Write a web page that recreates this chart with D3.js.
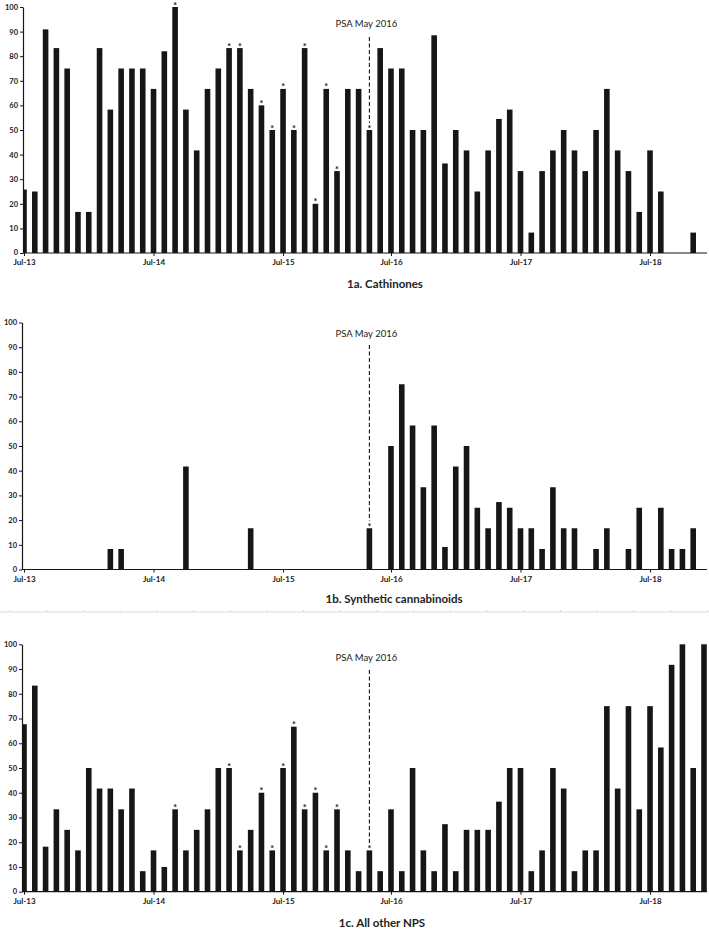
<!DOCTYPE html>
<html>
<head>
<meta charset="utf-8">
<script src="https://cdn.jsdelivr.net/npm/d3@7"></script>
<style>
  html, body { margin: 0; padding: 0; background: #fff; }
  svg { display: block; }
</style>
</head>
<body>
<div id="chart"></div>
<script>
// ---------------- DATA ----------------
const months = [
  "Jul-13","Aug-13","Sep-13","Oct-13","Nov-13","Dec-13","Jan-14","Feb-14","Mar-14","Apr-14","May-14","Jun-14",
  "Jul-14","Aug-14","Sep-14","Oct-14","Nov-14","Dec-14","Jan-15","Feb-15","Mar-15","Apr-15","May-15","Jun-15",
  "Jul-15","Aug-15","Sep-15","Oct-15","Nov-15","Feb-16","Mar-16","Apr-16","May-16","Jun-16",
  "Jul-16","Aug-16","Sep-16","Oct-16","Nov-16","Dec-16","Jan-17","Feb-17","Mar-17","Apr-17","May-17","Jun-17",
  "Jul-17","Aug-17","Sep-17","Oct-17","Nov-17","Dec-17","Jan-18","Feb-18","Mar-18","Apr-18","May-18","Jun-18",
  "Jul-18","Aug-18","Sep-18","Oct-18","Nov-18","Dec-18"
];
const xTickLabels = ["Jul-13","Jul-14","Jul-15","Jul-16","Jul-17","Jul-18"];
const yTickValues = [0,10,20,30,40,50,60,70,80,90,100];
const psaLabel = "PSA May 2016";
const psaMonth = "May-16";
const titles = ["1a. Cathinones", "1b. Synthetic cannabinoids", "1c. All other NPS"];

const cathinones = [
  25.8,25,90.9,83.3,75,16.7,16.7,83.3,58.3,75,75,75,
  66.7,82,100,58.3,41.7,66.7,75,83.3,83.3,66.7,60,50,
  66.7,50,83.3,20,66.7,33.3,66.7,66.7,50,83.3,
  75,75,50,50,88.5,36.4,50,41.7,25,41.7,54.5,58.3,
  33.3,8.3,33.3,41.7,50,41.7,33.3,50,66.7,41.7,33.3,16.7,
  41.7,25,null,null,8.3,null
];
const cannabinoids = [
  null,null,null,null,null,null,null,null,8.3,8.3,null,null,
  null,null,null,41.7,null,null,null,null,null,16.7,null,null,
  null,null,null,null,null,null,null,null,16.7,null,
  50,75,58.3,33.3,58.3,9.1,41.7,50,25,16.7,27.3,25,
  16.7,16.7,8.3,33.3,16.7,16.7,null,8.3,16.7,null,8.3,25,
  null,25,8.3,8.3,16.7,null
];
const otherNPS = [
  67.7,83.3,18.2,33.3,25,16.7,50,41.7,41.7,33.3,41.7,8.3,
  16.7,10,33.3,16.7,25,33.3,50,50,16.7,25,40,16.7,
  50,66.7,33.3,40,16.7,33.3,16.7,8.3,16.7,8.3,
  33.3,8.3,50,16.7,8.3,27.3,8.3,25,25,25,36.4,50,
  50,8.3,16.7,50,41.7,8.3,16.7,16.7,75,41.7,75,33.3,
  75,58.3,91.7,100,50,100
];
// months marked with an asterisk
const starsCathinones = ["Sep-14","Feb-15","Mar-15","May-15","Jun-15","Jul-15","Aug-15","Sep-15","Oct-15","Nov-15","Feb-16","May-16"];
const starsCannabinoids = ["May-16"];
const starsOther = ["Sep-14","Feb-15","Mar-15","May-15","Jun-15","Jul-15","Aug-15","Sep-15","Oct-15","Nov-15","Feb-16","May-16"];

// ---------------- LAYOUT ----------------
const W = 709, H = 930;
const svg = d3.select("#chart").append("svg")
  .attr("width", W).attr("height", H)
  .attr("viewBox", `0 0 ${W} ${H}`);
svg.append("rect").attr("width", W).attr("height", H).attr("fill", "#fff");

const x = d3.scalePoint().domain(months).range([24, 704]);
const barW = 5.6;
const ink = "#161616";
const tickFont = "Lato, 'Open Sans', 'DejaVu Sans', sans-serif";

const panels = [
  {values: cathinones, stars: starsCathinones, title: titles[0], yTop: 7, yBot: 253, axisX: 23,
   psaTextY: 27, psaLineTop: 37, titleX: 385, titleY: 288},
  {values: cannabinoids, stars: starsCannabinoids, title: titles[1], yTop: 322.5, yBot: 569.5, axisX: 22,
   psaTextY: 337, psaLineTop: 345, titleX: 394, titleY: 603},
  {values: otherNPS, stars: starsOther, title: titles[2], yTop: 644.3, yBot: 891.7, axisX: 22,
   psaTextY: 661, psaLineTop: 670, titleX: 382, titleY: 927}
];

// separator between panel b and c
const sepY = 612;
svg.append("line").attr("x1", 0).attr("x2", W).attr("y1", sepY).attr("y2", sepY)
  .attr("stroke", "#d8d8d8").attr("stroke-width", 1);
svg.append("g").selectAll("line").data(d3.range(10, W, 36.7)).join("line")
  .attr("x1", d => d).attr("x2", d => d).attr("y1", sepY - 2).attr("y2", sepY)
  .attr("stroke", "#d8d8d8").attr("stroke-width", 1);

panels.forEach((p, pi) => {
  const y = d3.scaleLinear().domain([0, 100]).range([p.yBot, p.yTop]);
  const g = svg.append("g");
  const data = months.map((m, i) => ({m, v: p.values[i]})).filter(d => d.v != null);

  const clipId = "clip" + pi;
  svg.append("clipPath").attr("id", clipId).append("rect")
    .attr("x", p.axisX).attr("y", p.yTop - 5).attr("width", W - p.axisX).attr("height", p.yBot - p.yTop + 5);

  // bars
  g.append("g").attr("clip-path", `url(#${clipId})`)
    .selectAll("rect").data(data).join("rect")
    .attr("x", d => x(d.m) - barW / 2)
    .attr("y", d => y(d.v))
    .attr("width", barW)
    .attr("height", d => y(0) - y(d.v))
    .attr("fill", ink);

  // asterisks
  g.append("g").selectAll("text").data(data.filter(d => p.stars.includes(d.m))).join("text")
    .attr("x", d => x(d.m))
    .attr("y", d => y(d.v) + 1.5)
    .attr("text-anchor", "middle")
    .attr("font-family", tickFont).attr("font-weight", 700).attr("font-size", 9)
    .attr("fill", ink)
    .text("*");

  // PSA dashed line + label
  const psaVal = p.values[months.indexOf(psaMonth)];
  g.append("line")
    .attr("x1", x(psaMonth)).attr("x2", x(psaMonth))
    .attr("y1", p.psaLineTop).attr("y2", y(psaVal) - 7)
    .attr("stroke", ink).attr("stroke-width", 1.1).attr("stroke-dasharray", "4,2.5");
  g.append("text")
    .attr("x", x(psaMonth) - 3).attr("y", p.psaTextY)
    .attr("text-anchor", "middle")
    .attr("font-family", tickFont).attr("font-size", 9.5).attr("fill", "#222")
    .text(psaLabel);

  // y axis
  const yAxis = d3.axisLeft(y).tickValues(yTickValues).tickSize(3).tickSizeOuter(0).tickPadding(2);
  const ga = g.append("g").attr("transform", `translate(${p.axisX},0)`).call(yAxis);
  ga.select(".domain").attr("stroke", ink).attr("stroke-width", 1.2);
  ga.selectAll(".tick line").attr("stroke", ink);
  ga.selectAll(".tick text").attr("font-family", tickFont).attr("font-weight", 700)
    .attr("font-size", 7.5).attr("fill", "#222")
    .attr("dy", d => d === 0 ? "0.2em" : "0.32em");

  // x axis
  const xAxis = d3.axisBottom(x).tickValues(xTickLabels).tickSize(3).tickSizeOuter(0).tickPadding(3.5);
  const gx = g.append("g").attr("transform", `translate(0,${p.yBot})`).call(xAxis);
  gx.select(".domain").remove();
  gx.selectAll(".tick line").attr("stroke", ink);
  gx.selectAll(".tick text").attr("font-family", tickFont).attr("font-weight", 700)
    .attr("font-size", 8).attr("fill", "#222");
  g.append("line").attr("x1", p.axisX).attr("x2", 707).attr("y1", p.yBot).attr("y2", p.yBot)
    .attr("stroke", ink).attr("stroke-width", 1.2);

  // title
  g.append("text").attr("x", p.titleX).attr("y", p.titleY)
    .attr("text-anchor", "middle")
    .attr("font-family", tickFont).attr("font-weight", 700).attr("font-size", 11.5)
    .attr("fill", "#222")
    .text(p.title);
});
</script>
</body>
</html>
